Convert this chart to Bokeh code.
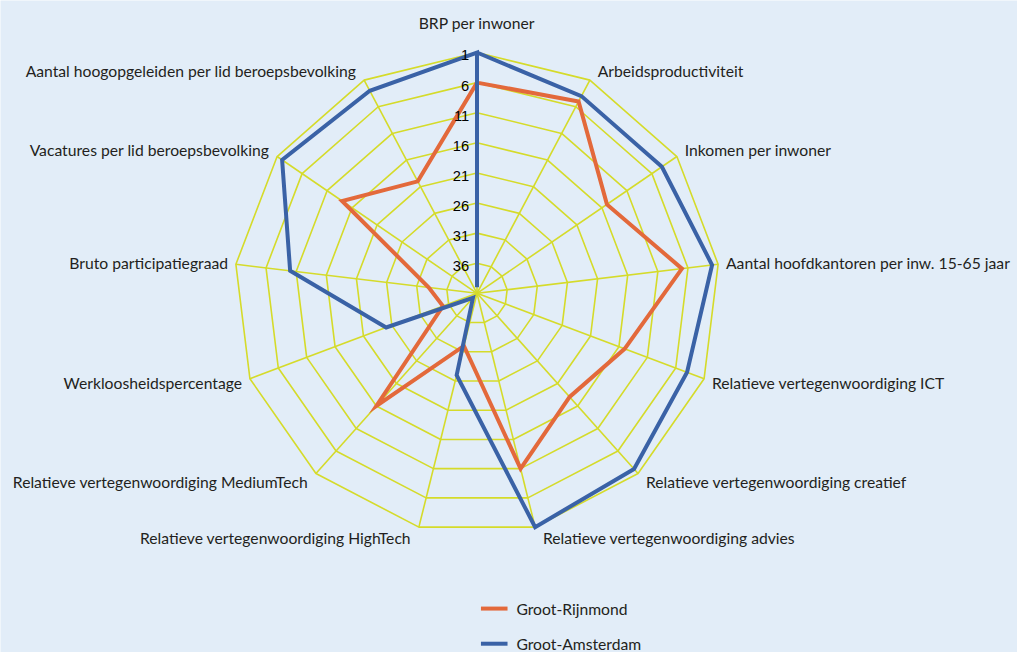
import numpy as np
from bokeh.plotting import figure
from bokeh.models import Range1d
from bokeh.core.properties import value
from bokeh.embed import file_html
from bokeh.resources import INLINE

# ---------------- data ----------------
categories = [
    "BRP per inwoner",
    "Arbeidsproductiviteit",
    "Inkomen per inwoner",
    "Aantal hoofdkantoren per inw. 15-65 jaar",
    "Relatieve vertegenwoordiging ICT",
    "Relatieve vertegenwoordiging creatief",
    "Relatieve vertegenwoordiging advies",
    "Relatieve vertegenwoordiging HighTech",
    "Relatieve vertegenwoordiging MediumTech",
    "Werkloosheidspercentage",
    "Bruto participatiegraad",
    "Vacatures per lid beroepsbevolking",
    "Aantal hoogopgeleiden per lid beroepsbevolking",
]
groot_rijnmond = [6, 5, 15, 7, 15, 18, 11, 32, 16, 35, 33, 14, 20]
groot_amsterdam = [1, 4, 4, 2, 4, 2, 1, 27, 40, 25, 10, 2, 3]
series_names = ["Groot-Rijnmond", "Groot-Amsterdam"]
tick_values = [1, 6, 11, 16, 21, 26, 31, 36]
tick_labels = ["1", "6", "11", "16", "21", "26", "31", "36"]
rank_best, rank_center = 1, 41

# ---------------- styling ----------------
BG = "#E2EDF8"
GRID = "#D5DB2A"
COLORS = ["#E3693B", "#3A62A6"]
TEXT = "#231F20"
LABEL_FONT = "Lato"

W, H = 1017, 652               # figure size in pixels
RW, RH = 1033, 668             # layout canvas units
CX, CY = 484, 300              # centre of the radar in canvas units
R = 246.7                      # radius of the outer ring (rank 1)

n = len(categories)
theta = np.pi / 2 - 2 * np.pi * np.arange(n) / n
cos_t, sin_t = np.cos(theta), np.sin(theta)


def radius(rank):
    return (rank_center - np.asarray(rank, dtype=float)) / (rank_center - rank_best) * R


p = figure(width=W, height=H, output_backend="svg", toolbar_location=None,
           x_range=Range1d(-CX, RW - CX), y_range=Range1d(-(RH - CY), CY),
           min_border=0, outline_line_color=None)
p.axis.visible = False
p.grid.visible = False
p.background_fill_color = BG
p.border_fill_color = BG

# rings
ring_xs, ring_ys = [], []
for t in tick_values:
    r = radius(t)
    ring_xs.append(list(np.append(r * cos_t, r * cos_t[0])))
    ring_ys.append(list(np.append(r * sin_t, r * sin_t[0])))
p.multi_line(ring_xs, ring_ys, line_color=GRID, line_width=1.6)

# spokes
r0 = radius(rank_best)
p.segment(x0=np.zeros(n), y0=np.zeros(n), x1=r0 * cos_t, y1=r0 * sin_t,
          line_color=GRID, line_width=1.6)

# series
for vals, col in zip([groot_rijnmond, groot_amsterdam], COLORS):
    r = radius(vals)
    xs = np.append(r * cos_t, r * cos_t[0])
    ys = np.append(r * sin_t, r * sin_t[0])
    p.line(xs, ys, line_color=col, line_width=4, line_join="miter")

# tick labels
tr = radius(tick_values)
p.text(x=np.full(len(tick_values), -8.0), y=tr - 3.0, text=tick_labels,
       text_align="right", text_baseline="middle",
       text_font=value("Liberation Sans"), text_font_size="14.7px", text_color="black")

# category labels
lx, ly, aligns = [], [], []
for k in range(n):
    c, s = cos_t[k], sin_t[k]
    if abs(c) < 1e-6:
        lx.append(0.0)
        ly.append(r0 + 30)
        aligns.append("center")
    else:
        lx.append(r0 * c + 8 * np.sign(c))
        ly.append(r0 * s + 11 * s)
        aligns.append("left" if c > 0 else "right")
p.text(x=lx, y=ly, text=categories, text_align=aligns, text_baseline="middle",
       text_font=value(LABEL_FONT), text_font_size="15.7px", text_color=TEXT)

# legend (drawn manually)
leg_x0 = 488 - CX
leg_y = [CY - 623, CY - 659]
for name, col, yy in zip(series_names, COLORS, leg_y):
    p.segment(x0=[leg_x0], y0=[yy], x1=[leg_x0 + 27], y1=[yy], line_color=col, line_width=4)
    p.text(x=[leg_x0 + 36], y=[yy], text=[name], text_align="left", text_baseline="middle",
           text_font=value(LABEL_FONT), text_font_size="15.7px", text_color=TEXT)

open("out.html", "w").write(file_html(p, INLINE))
